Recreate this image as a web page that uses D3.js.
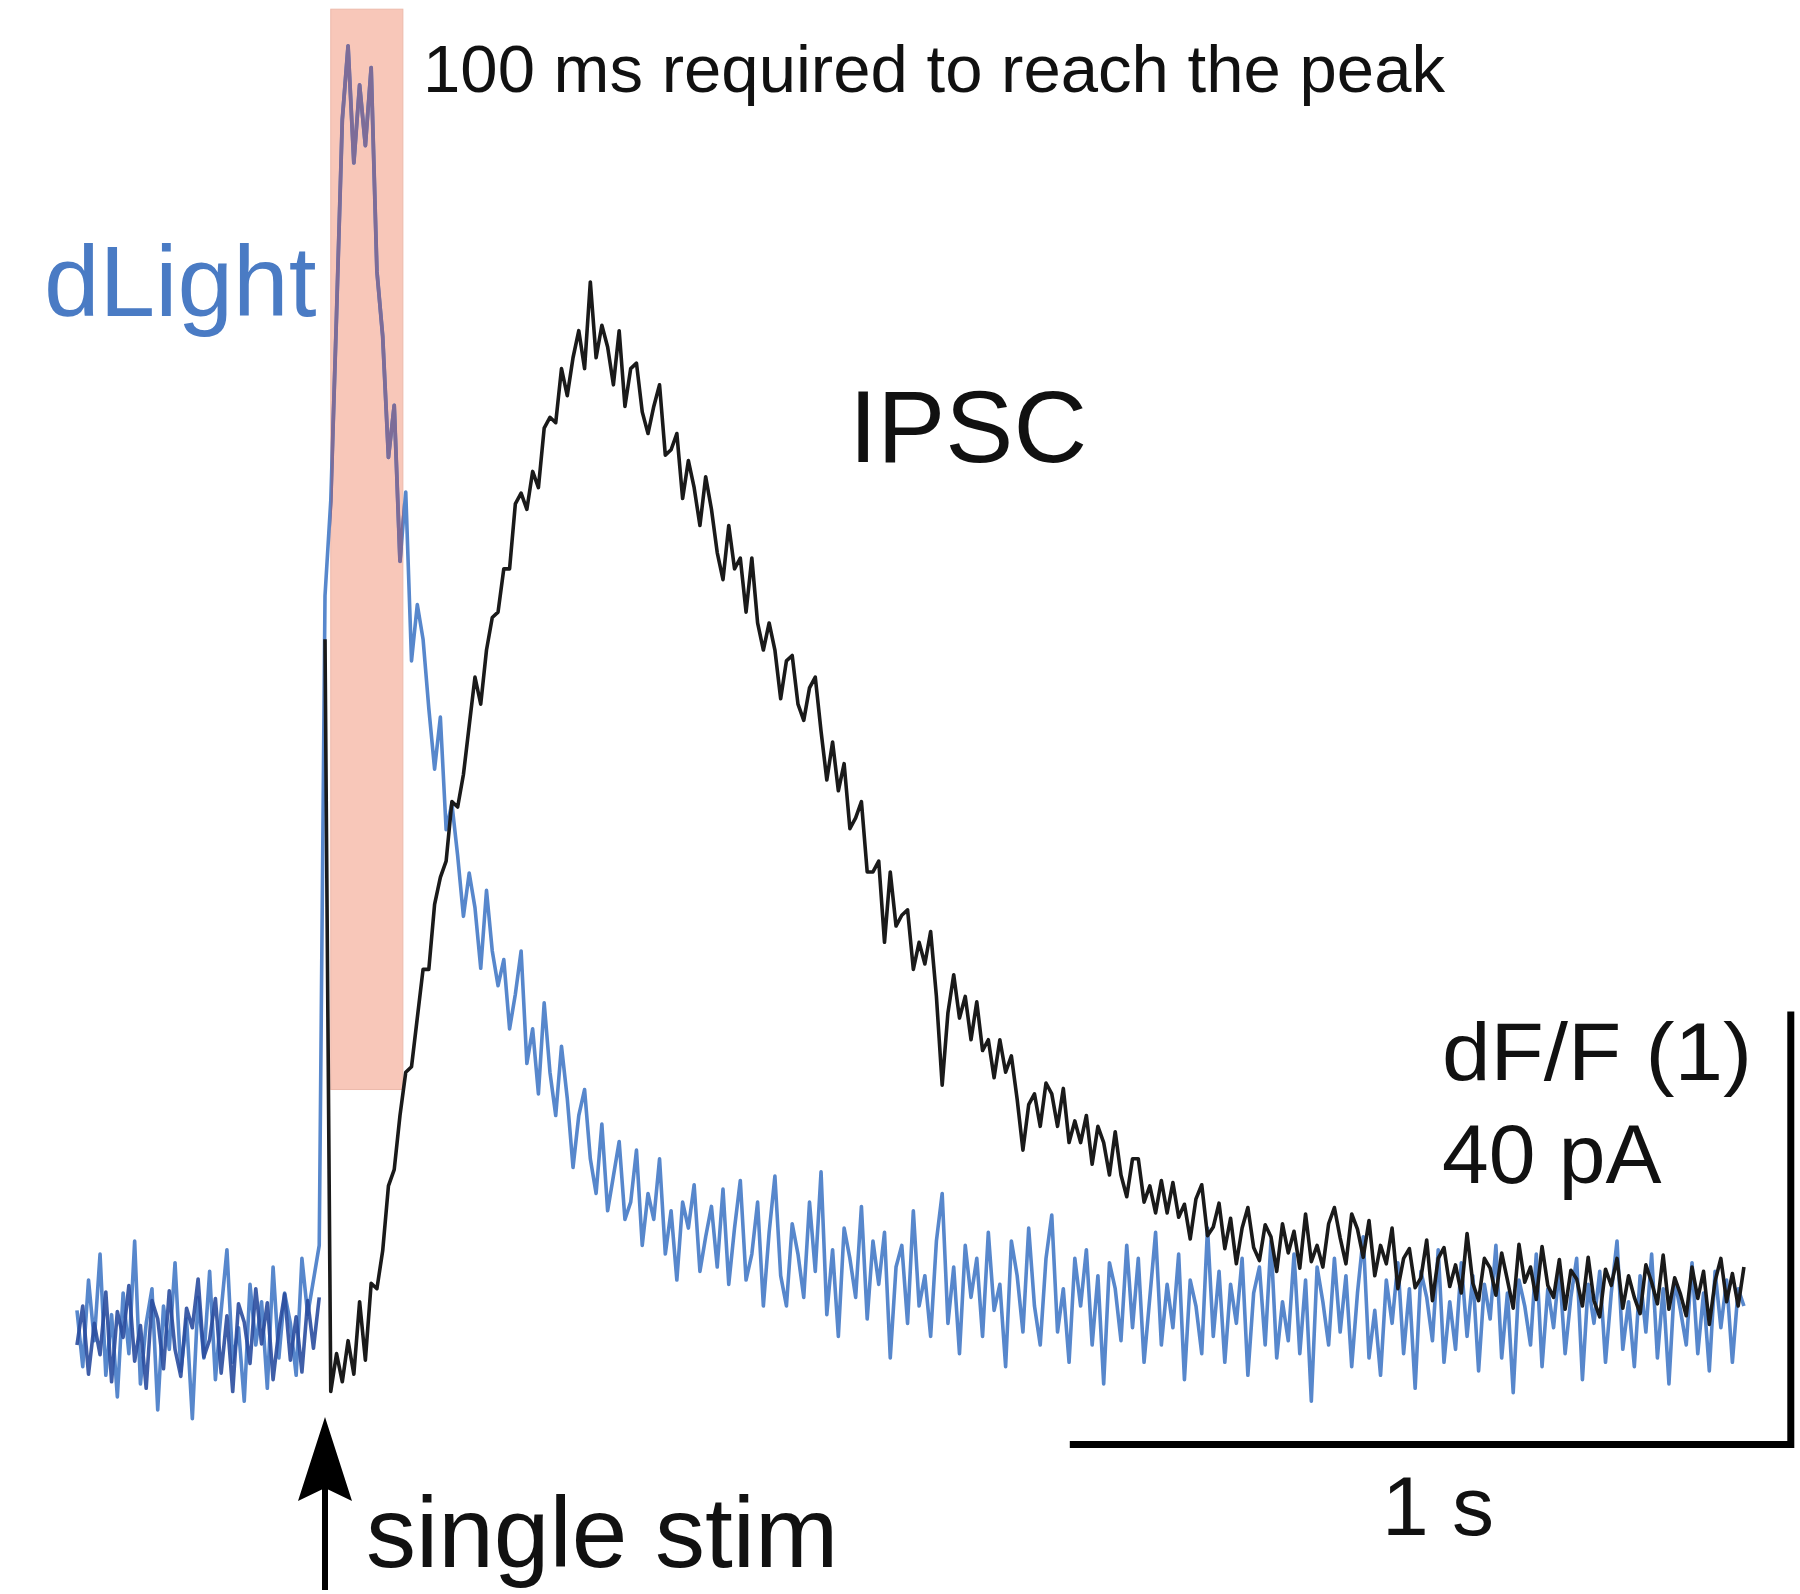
<!DOCTYPE html>
<html><head><meta charset="utf-8">
<script src="https://cdn.jsdelivr.net/npm/d3@7"></script>
<style>html,body{margin:0;padding:0;background:#fff;}svg{display:block;}</style>
</head><body>
<svg id="chart" width="1800" height="1594"></svg>
<script>
// ---- sampling grid (seconds) ----
const t0 = -0.344;
const dt = 0.008;

// ---- dLight dF/F trace (sampled every 8 ms from t0) ----
const dLight = [
0.05,-0.08,0.12,-0.02,0.18,-0.10,0.04,-0.15,0.09,-0.05,
0.21,-0.12,0.02,0.10,-0.18,0.06,-0.04,0.16,-0.09,0.03,
-0.20,0.08,-0.06,0.14,-0.11,0.05,0.19,-0.07,0.01,-0.16,
0.11,-0.03,0.07,-0.13,0.15,-0.06,0.09,0.02,-0.10,0.17,
0.04,0.12,0.20,
1.70,1.92,2.35,2.80,2.97,2.70,2.88,2.74,2.92,2.45,
2.30,2.02,2.14,1.78,1.94,1.55,1.68,1.60,1.44,1.30,
1.42,1.16,1.22,1.10,0.96,1.06,0.98,0.84,1.02,0.88,
0.80,0.86,0.70,0.78,0.88,0.62,0.70,0.55,0.76,0.60,
0.50,0.66,0.54,0.38,0.50,0.56,0.40,0.32,0.48,0.28,
0.36,0.44,0.26,0.30,0.42,0.20,0.32,0.26,0.40,0.18,
0.28,0.12,0.30,0.24,0.34,0.14,0.22,
0.29,0.15,0.33,0.11,0.24,0.35,0.12,0.18,0.30,0.06,
0.23,0.36,0.13,0.06,0.25,0.18,0.08,0.30,0.14,0.37,
0.04,0.19,-0.01,0.24,0.17,0.08,0.29,0.03,0.21,0.11,
0.23,-0.06,0.15,0.20,0.02,0.28,0.06,0.13,-0.01,0.21,
0.32,0.02,0.15,-0.05,0.20,0.08,0.17,-0.01,0.23,0.05,
0.11,-0.08,0.21,0.13,0.00,0.24,0.06,-0.03,0.17,0.27,
0.00,0.10,-0.07,0.17,0.06,0.19,-0.03,0.13,-0.12,0.16,
0.10,-0.02,0.20,0.01,0.17,-0.07,0.08,0.23,-0.03,0.11,
0.01,0.18,-0.11,0.12,0.06,-0.05,0.24,-0.01,0.14,-0.07,
0.11,0.02,0.17,-0.10,0.09,0.15,-0.03,0.21,-0.06,0.07,
-0.02,0.18,-0.05,0.12,-0.16,0.15,0.07,-0.03,0.17,0.00,
0.13,-0.08,0.09,0.22,-0.06,0.05,-0.10,0.12,0.02,0.16,
-0.05,0.10,-0.13,0.14,0.08,-0.02,0.19,-0.07,0.07,-0.04,
0.16,-0.01,0.13,-0.09,0.11,0.03,0.20,-0.06,0.09,-0.14,
0.12,0.06,-0.03,0.18,-0.08,0.10,0.01,0.15,-0.05,0.08,
0.17,-0.11,0.11,0.02,0.14,-0.07,0.09,0.21,-0.04,0.07,
-0.08,0.13,0.00,0.18,-0.06,0.10,-0.12,0.12,0.05,-0.03,
0.16,-0.05,0.09,-0.09,0.14,0.01,0.12,-0.07,0.10,0.06
];

// ---- IPSC trace in pA (same sampling; index 43 = stimulus) ----
const ipsc = [
-1.2,2.4,-3.9,0.8,-2.1,3.7,-4.6,1.9,-0.5,4.3,
-2.7,0.6,-5.2,2.9,1.2,-3.4,3.8,-1.6,-4.1,2.2,
0.4,4.9,-2.3,-0.7,3.1,-3.8,1.5,-5.5,2.6,0.9,
-2.9,4.0,-1.1,2.7,-4.4,0.2,3.5,-2.6,1.4,-3.7,
2.9,-1.5,3.2,
64,
-5.5,-2.0,-4.6,-0.8,-3.9,2.8,-2.6,4.5,
4.0,7.5,13.5,15.0,20.0,24.0,24.5,29.0,33.5,33.5,
39.5,42.0,43.5,49.0,48.5,51.5,56.0,60.5,58.0,63.0,
66.0,66.5,70.5,70.5,76.5,77.5,76.0,79.5,78.0,83.5,
84.5,84.0,89.0,86.5,90.0,92.5,89.0,
97.0,90.0,93.0,91.0,87.5,92.5,85.5,89.0,89.5,85.0,
83.0,85.5,87.5,81.0,81.5,83.0,77.0,80.5,78.0,74.5,
79.0,76.0,72.0,69.5,74.5,70.5,71.5,66.5,71.5,65.5,
63.0,65.5,63.0,58.5,62.0,62.5,58.0,56.5,59.5,60.5,
55.5,51.0,54.5,50.0,52.5,46.5,47.5,49.0,42.5,42.5,
43.5,36.0,42.5,37.5,38.5,39.0,33.5,36.0,34.0,37.0,
31.0,22.8,29.5,33.0,29.0,31.0,27.0,30.5,26.0,27.0,
23.5,27.0,24.0,25.5,21.5,16.8,21.0,22.0,19.0,23.0,
22.0,19.0,22.5,17.5,19.5,17.5,20.0,15.5,19.0,17.5,
14.5,18.5,14.5,12.5,16.0,16.0,12.0,13.5,11.0,14.0,
11.0,
13.8,10.6,11.8,8.6,12.3,13.6,8.9,9.7,11.9,7.7,
10.5,6.3,9.6,11.5,7.8,6.6,9.9,8.8,5.6,10.0,
7.3,9.3,5.9,10.9,6.5,8.0,6.0,10.0,11.5,8.7,
6.3,10.9,9.5,6.9,10.3,5.2,8.0,6.3,9.6,4.0,
6.8,7.7,4.1,5.0,8.5,2.9,6.8,7.8,4.2,6.2,
3.6,9.1,4.5,2.9,6.8,5.9,3.4,7.3,4.8,2.2,
8.1,4.6,6.0,3.0,7.9,4.3,3.2,6.7,2.1,5.7,
4.9,2.4,6.9,2.9,1.4,5.8,4.3,6.8,2.2,5.2,
3.2,1.7,6.2,4.6,2.6,7.1,2.1,5.0,3.5,1.5,
6.0,3.1,5.6,0.7,4.7,6.8,2.8,5.4,2.4,6.0
];
const stimIndex = 43;

// ---- annotations ----
const highlight = {t0: 0.008, t1: 0.108, v0: 0.56, v1: 3.055};   // 100 ms window (dF/F units)
const scaleBar = {t: 1.033, v: -0.26, dur: 1, dff: 1, pA: 40};
const labels = {
  note: "100 ms required to reach the peak",
  dLight: "dLight",
  ipsc: "IPSC",
  dff: "dF/F (1)",
  pa: "40 pA",
  sec: "1 s",
  stim: "single stim"
};

// ---- scales ----
const x = d3.scaleLinear().domain([0, 1]).range([325, 1046]);
const yF = d3.scaleLinear().domain([0, 1]).range([1332, 899]);
const yI = d3.scaleLinear().domain([0, 40]).range([1332, 899]);

const svg = d3.select("#chart");
const FONT = "'Liberation Sans', Arial, Helvetica, sans-serif";

const dPts = dLight.map((v, i) => [t0 + i * dt, v]);
const iPts = ipsc.map((v, i) => [t0 + i * dt, v]);

const lineF = d3.line().x(d => x(d[0])).y(d => yF(d[1]));
const lineI = d3.line().x(d => x(d[0])).y(d => yI(d[1]));

// highlight rect
const hx0 = x(highlight.t0), hx1 = x(highlight.t1), hy0 = yF(highlight.v1), hy1 = yF(highlight.v0);
svg.append("rect")
  .attr("x", hx0).attr("y", hy0).attr("width", hx1 - hx0).attr("height", hy1 - hy0)
  .attr("fill", "#f8c7b9").attr("stroke", "#ecb9ab").attr("stroke-width", 1);

svg.append("defs").append("clipPath").attr("id", "hl")
  .append("rect").attr("x", hx0).attr("y", hy0).attr("width", hx1 - hx0).attr("height", hy1 - hy0);

// dLight trace
svg.append("path").attr("d", lineF(dPts))
  .attr("fill", "none").attr("stroke", "#5787cc").attr("stroke-width", 3.6)
  .attr("stroke-linejoin", "round");
svg.append("path").attr("d", lineF(dPts)).attr("clip-path", "url(#hl)")
  .attr("fill", "none").attr("stroke", "#7d6c98").attr("stroke-width", 3.8)
  .attr("stroke-linejoin", "round");

// IPSC pre-stim (overlaid, navy) and post-stim (black)
svg.append("path").attr("d", lineI(iPts.slice(0, stimIndex)))
  .attr("fill", "none").attr("stroke", "#2a4c9f").attr("stroke-width", 3.6)
  .attr("stroke-opacity", 0.9).attr("stroke-linejoin", "round");
svg.append("path").attr("d", lineI(iPts.slice(stimIndex)))
  .attr("fill", "none").attr("stroke", "#1a1a1a").attr("stroke-width", 3.6)
  .attr("stroke-linejoin", "round");

// scale bars
const sbX0 = x(scaleBar.t), sbX1 = x(scaleBar.t + scaleBar.dur);
const sbY0 = yF(scaleBar.v), sbY1 = yF(scaleBar.v + scaleBar.dff);
svg.append("path")
  .attr("d", `M${sbX0},${sbY0}H${sbX1}V${sbY1}`)
  .attr("fill", "none").attr("stroke", "#000").attr("stroke-width", 7)
  .attr("stroke-linejoin", "miter").attr("stroke-linecap", "butt");

// stimulus arrow
const ax = x(0);
svg.append("line").attr("x1", ax).attr("x2", ax).attr("y1", 1480).attr("y2", 1590)
  .attr("stroke", "#000").attr("stroke-width", 6);
svg.append("path")
  .attr("d", `M${ax},1417 L${ax + 27},1501 L${ax},1488 L${ax - 27},1501 Z`)
  .attr("fill", "#000");

// texts
function txt(s, xx, yy, size, fill, tl) {
  const t = svg.append("text").attr("x", xx).attr("y", yy)
    .attr("font-family", FONT).attr("font-size", size).attr("fill", fill).text(s);
  if (tl) t.attr("textLength", tl).attr("lengthAdjust", "spacingAndGlyphs");
  return t;
}
txt(labels.note, 423, 92, 67, "#111", 1022);
txt(labels.dLight, 44, 316, 100, "#4a7bc4");
txt(labels.ipsc, 849, 462, 102, "#111");
txt(labels.dff, 1442, 1080, 82, "#111", 310);
txt(labels.pa, 1442, 1183, 84, "#111");
txt(labels.sec, 1382, 1535, 84, "#111");
txt(labels.stim, 366, 1567, 100, "#111");
</script>
</body></html>
